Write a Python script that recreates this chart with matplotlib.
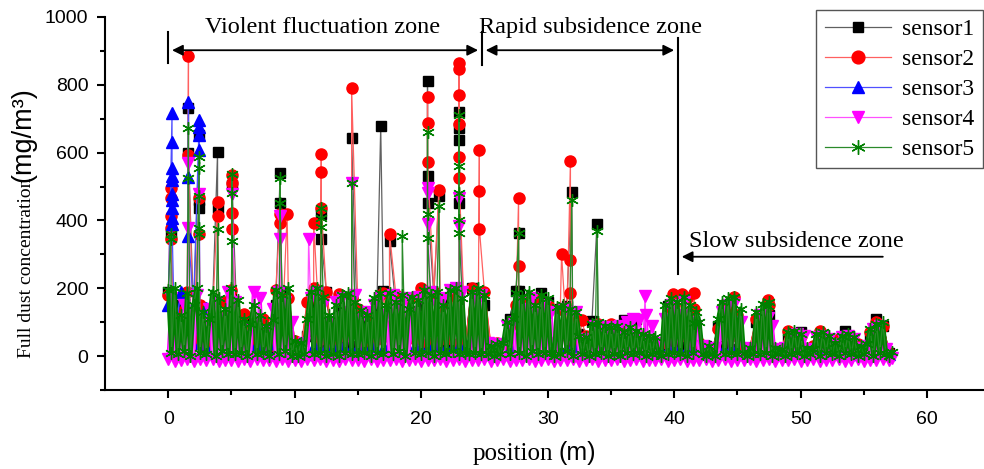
import numpy as np
import matplotlib
matplotlib.use('Agg')
from matplotlib import pyplot as plt
from matplotlib.font_manager import FontProperties

# ---- data (position in m, concentration in mg/m3) ----
pos_fine = np.arange(0, 57.5, 0.25)    # sampling grid for sensor4 / sensor5
pos_coarse = np.arange(0, 57.5, 0.5)   # sampling grid for sensor1..3

s1_base = [190, 20, 150, 40, 120, 60, 30, 140, 25, 110,
           180, 30, 90, 112, 40, 80, 20, 150, 190, 30,
           20, 35, 60, 160, 30, 190, 25, 150, 40, 170,
           30, 100, 20, 150, 192, 60, 140, 25, 170, 60,
           150, 30, 180, 40, 160, 20, 190, 30, 201, 60,
           150, 20, 30, 15, 109, 192, 40, 150, 30, 186,
           160, 30, 140, 148, 40, 65, 20, 104, 30, 90,
           20, 80, 106, 30, 110, 40, 50, 20, 30, 148,
           40, 120, 30, 100, 20, 30, 10, 90, 30, 133,
           20, 15, 25, 100, 40, 120, 15, 20, 60, 20,
           70, 15, 20, 65, 30, 40, 20, 74, 15, 30,
           20, 60, 109, 90, 10]
s2_base = [180, 30, 130, 190, 50, 150, 40, 120, 60, 160,
           195, 40, 124, 30, 60, 109, 30, 195, 60, 170,
           45, 20, 160, 200, 50, 190, 40, 183, 60, 170,
           139, 40, 120, 50, 185, 60, 180, 40, 170, 50,
           201, 40, 190, 148, 50, 180, 40, 30, 200, 60,
           190, 30, 40, 20, 90, 150, 163, 50, 170, 60,
           150, 40, 140, 60, 120, 30, 60, 40, 95, 60,
           95, 30, 80, 40, 70, 30, 50, 20, 40, 120,
           150, 60, 170, 139, 40, 20, 15, 80, 139, 60,
           120, 20, 25, 110, 60, 150, 20, 25, 74, 40,
           60, 20, 30, 74, 40, 30, 50, 40, 20, 35,
           25, 70, 100, 90, 10]
s3_base = [150, 60, 190, 80, 150, 40, 142, 30, 60, 20,
           20, 40, 10, 30, 15, 35, 5, 40, 20, 30,
           10, 20, 5, 30, 15, 25, 10, 35, 20, 15,
           25, 10, 30, 5, 20, 35, 15, 25, 10, 30,
           20, 5, 35, 15, 25, 10, 30, 5, 40, 20,
           10, 5, 15, 5, 20, 30, 10, 25, 15, 20,
           25, 5, 20, 10, 30, 15, 5, 20, 10, 25,
           15, 5, 20, 10, 25, 5, 15, 5, 10, 20,
           25, 10, 20, 5, 15, 8, 5, 20, 10, 25,
           10, 5, 8, 15, 10, 20, 5, 8, 10, 15,
           10, 5, 8, 12, 6, 10, 8, 12, 5, 8,
           5, 10, 15, 10, 5]
s4_base = [-10, 170, -15, 90, -12, 150, -8, 120, -14, 180, -10, 100, -13, 140, -9, 160, -15, 110, -11, 190,
           -12, 160, -14, 80, -10, 60, -15, 190, -8, 170, -13, 70, -11, 140, -15, 190, -9, 160, -14, 100,
           -12, 30, -15, 40, -10, 170, -13, 190, -9, 150, -14, 100, -11, 160, -15, 170, -10, 130, -13, 180,
           -12, 110, -15, 130, -9, 150, -14, 170, -11, 120, -13, 180, -10, 150, -15, 170, -12, 130, -9, 175,
           -14, 160, -11, 190, -13, 150, -10, 170, -15, 195, -12, 200, -9, 190, -14, 30, -11, 170, -13, 180,
           -10, 40, -15, 30, -12, 35, -9, 90, -14, 100, -11, 160, -13, 140, -10, 170, -15, 120, -12, 150,
           -9, 130, -14, 40, -11, 140, -13, 120, -10, 130, -15, 50, -12, 40, -9, 90, -14, 80, -11, 85,
           -13, 80, -10, 90, -15, 100, -12, 110, -9, 105, -14, 120, -11, 90, -13, 40, -10, 110, -15, 150,
           -12, 120, -9, 160, -14, 100, -11, 90, -13, 30, -10, 20, -15, 25, -12, 130, -9, 150, -14, 154,
           -11, 100, -13, 25, -10, 20, -15, 120, -12, 112, -9, 90, -14, 20, -11, 25, -13, 60, -10, 65,
           -15, 60, -12, 20, -9, 55, -14, 60, -11, 50, -13, 35, -10, 55, -15, 59, -12, 50, -9, 25,
           -14, 30, -11, 80, -13, 90, -10, 20, -12, -5]
s5_base = [195, 10, 200, 5, 120, 15, 185, 0, 150, 200, 10, 130, 5, 110, 190, 0, 170, 15, 140, 5,
           200, 5, 165, 10, 110, 0, 95, 150, 5, 120, 10, 90, 0, 105, 195, 5, 180, 15, 200, 0,
           45, 0, 40, 5, 110, 190, 5, 200, 10, 175, 0, 120, 5, 150, 0, 180, 10, 185, 5, 160,
           5, 135, 10, 120, 0, 170, 10, 185, 5, 150, 185, 5, 160, 15, 180, 0, 140, 175, 10, 165,
           5, 195, 10, 180, 0, 190, 10, 150, 5, 195, 15, 200, 5, 170, 10, 5, 190, 10, 200, 5,
           180, 5, 30, 0, 35, 5, 40, 100, 5, 110, 185, 10, 175, 0, 190, 15, 150, 5, 180, 10,
           170, 10, 0, 145, 5, 150, 15, 140, 0, 130, 60, 5, 55, 0, 95, 5, 100, 10, 90, 0,
           85, 5, 90, 0, 70, 10, 85, 5, 75, 10, 65, 0, 60, 5, 55, 10, 0, 150, 5, 170,
           10, 160, 5, 175, 0, 150, 10, 130, 100, 5, 0, 30, 5, 0, 110, 160, 5, 170, 10, 175,
           5, 140, 10, 0, 25, 5, 130, 5, 155, 10, 160, 0, 25, 5, 20, 0, 70, 5, 75, 10,
           65, 0, 25, 5, 20, 65, 0, 70, 10, 60, 5, 40, 0, 60, 10, 65, 5, 55, 0, 30,
           5, 35, 80, 0, 95, 10, 100, 5, 0, 12]

# repeated samples taken while standing at one position (the tall spikes)
s1_spike_x = [0.2, 1.6, 2.45, 3.9, 5.05, 8.85, 12.1, 14.5, 16.8, 17.5, 20.5, 21.4, 23.0, 27.7, 31.9, 33.9]
s1_spike_y = [[360], [731, 600], [651, 459, 438], [601, 438], [505], [541, 450], [420, 346], [642],
              [678], [340], [811, 530, 450], [473], [719, 672, 636, 450], [364, 192], [485], [390]]
s2_spike_x = [0.2, 1.6, 2.45, 3.9, 5.05, 8.85, 9.4, 11.5, 12.1, 14.5, 17.5, 20.5, 21.4, 23.0, 24.6,
              27.7, 31.1, 31.8, 32.7, 39.9, 40.6, 41.6, 44.2, 44.7, 47.4]
s2_spike_y = [[497, 467, 414, 379, 346], [885, 592], [467, 361], [453, 414], [533, 509, 423, 376],
              [420, 393], [420], [393], [597, 544, 438], [790], [361], [763, 686, 571], [491],
              [864, 846, 769, 683, 586, 524], [609, 488, 376], [465, 266, 163], [300],
              [574, 284, 186], [106], [183], [183], [186, 139], [139], [175], [166]]
s3_spike_x = [0.3, 1.6, 2.45]
s3_spike_y = [[716, 630, 556, 532, 518, 479, 459, 438, 408, 390], [749, 527, 355], [695, 675, 651, 607]]
s4_spike_x = [1.6, 2.45, 5.05, 8.85, 11.1, 14.5, 20.5, 23.0, 37.7, 39.9, 40.6, 47.4]
s4_spike_y = [[568, 379], [479], [479], [414, 346], [346], [509], [497, 480, 391], [467, 385],
              [178], [127], [120], [112]]
s5_spike_x = [0.2, 1.6, 2.45, 3.9, 5.05, 8.85, 12.1, 14.5, 18.5, 20.5, 21.4, 23.0, 27.7, 31.9, 33.9, 41.6, 47.4]
s5_spike_y = [[361, 346], [672, 524], [586, 556, 473, 379, 361], [376], [538, 482, 340], [524, 450],
              [438, 408, 380], [509], [355], [660, 420, 349], [444], [710, 562, 480, 400, 364],
              [364], [459], [370], [98], [148]]

labels = ['sensor1', 'sensor2', 'sensor3', 'sensor4', 'sensor5']
zone_bounds = [0, 24.8, 40.3]


def merge(base_x, base_y, spike_x, spike_y):
    xs = np.concatenate([base_x, np.repeat(spike_x, [len(v) for v in spike_y])])
    ys = np.concatenate([base_y, np.concatenate(spike_y)])
    idx = np.argsort(xs, kind='stable')
    return xs[idx], ys[idx]


bases = [(pos_coarse, s1_base), (pos_coarse, s2_base), (pos_coarse, s3_base),
         (pos_fine, s4_base), (pos_fine, s5_base)]
spikes = [(s1_spike_x, s1_spike_y), (s2_spike_x, s2_spike_y), (s3_spike_x, s3_spike_y),
          (s4_spike_x, s4_spike_y), (s5_spike_x, s5_spike_y)]

# marker, marker colour, line colour, marker size, width of the dense base trace
styles = [('s', 'black', '#606060', 6.5, 1.2),
          ('o', '#ff0000', '#ff6060', 8, 1.2),
          ('^', '#0000ff', '#5050ff', 8, 1.2),
          ('v', '#ff00ff', '#ff50ff', 8, 2.6),
          ((6, 2, 0), '#008000', '#2a8a2a', 9, 3.2)]

serif = 'Liberation Serif'
sans = 'Liberation Sans'

fig = plt.figure(figsize=(9.84, 4.69), dpi=100)
ax = fig.add_axes([105 / 984, 79 / 469, 879 / 984, 373 / 469])

for (bx, by), (sx, sy), lab, (mk, mc, lc, ms, bw) in zip(bases, spikes, labels, styles):
    x, y = merge(bx, by, sx, sy)
    ax.plot(bx, by, color=mc, lw=bw)
    ax.plot(x, y, color=lc, lw=0.9, marker=mk, ms=ms, mfc=mc, mec=mc, mew=1.0, label=lab)

ax.set_xlim(-5, 64.5)
ax.set_ylim(-100, 1000)
ax.set_xticks(np.arange(0, 61, 10))
ax.set_xticks(np.arange(5, 61, 10), minor=True)
ax.set_yticks(np.arange(0, 1001, 200))
ax.set_yticks(np.arange(-100, 1000, 200), minor=True)
for sp in ['top', 'right']:
    ax.spines[sp].set_visible(False)
for sp in ['left', 'bottom']:
    ax.spines[sp].set_linewidth(1.5)
ax.tick_params(which='major', direction='out', length=6, width=1.5, labelsize=14, pad=6)
ax.tick_params(which='minor', direction='out', length=3.5, width=1.5)
ax.tick_params(axis='x', which='major', pad=9)
for t in ax.get_xticklabels() + ax.get_yticklabels():
    t.set_fontfamily(sans)

# zone markers
arrow = dict(arrowstyle='<|-|>', color='black', lw=1.3, shrinkA=0, shrinkB=0, mutation_scale=16)
ax.plot([zone_bounds[0]] * 2, [864, 957], color='black', lw=1.5)
ax.plot([zone_bounds[1]] * 2, [858, 957], color='black', lw=1.5)
ax.plot([zone_bounds[2]] * 2, [243, 938], color='black', lw=1.5)
ax.annotate('', xy=(zone_bounds[0] + 0.3, 902), xytext=(zone_bounds[1] - 0.3, 902), arrowprops=arrow)
ax.annotate('', xy=(zone_bounds[1] + 0.3, 902), xytext=(zone_bounds[2] - 0.3, 902), arrowprops=arrow)
ax.annotate('', xy=(zone_bounds[2] + 0.3, 293), xytext=(56.5, 293),
            arrowprops=dict(arrowstyle='-|>', color='black', lw=1.3, shrinkA=0, shrinkB=0, mutation_scale=16))
ax.text(12.2, 953, 'Violent fluctuation zone', family=serif, fontsize=17.5, ha='center', va='baseline')
ax.text(33.4, 953, 'Rapid subsidence zone', family=serif, fontsize=17.5, ha='center', va='baseline')
ax.text(49.7, 322, 'Slow subsidence zone', family=serif, fontsize=17.5, ha='center', va='baseline')

# axis labels (serif words, sans units)
fig.text(27 / 984, 111 / 469, 'Full dust concentration', family=serif, fontsize=14,
         rotation=90, ha='center', va='bottom')
fig.text(23 / 984, 287 / 469, '(mg/m\u00b3)', family=sans, fontsize=19.5,
         rotation=90, ha='center', va='bottom')
fig.text(553 / 984, 9 / 469, 'position', family=serif, fontsize=18, ha='right', va='baseline')
fig.text(558 / 984, 9 / 469, '(m)', family=sans, fontsize=18, ha='left', va='baseline')

leg = ax.legend(loc='upper right', bbox_to_anchor=(983 / 984, 459 / 469), bbox_transform=fig.transFigure,
                prop=FontProperties(family=serif, size=17), fancybox=False, framealpha=1,
                edgecolor='#555555', borderaxespad=0, handlelength=2.8, handletextpad=0.5,
                labelspacing=0.36, borderpad=0.35, markerscale=1.15)
leg.get_frame().set_linewidth(1.0)

fig.savefig('out.png', dpi=100)
